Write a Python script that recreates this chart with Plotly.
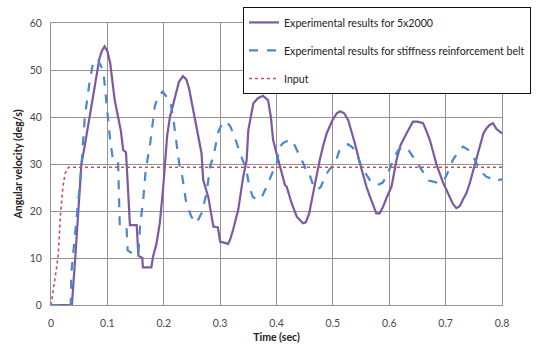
import plotly.graph_objects as go

# ---- data ----
t_5x2000 = [0, 0.037, 0.043, 0.048, 0.054, 0.06, 0.065, 0.07, 0.075, 0.081, 0.086, 0.09, 0.095, 0.1,
            0.105, 0.109, 0.113, 0.119, 0.124, 0.128, 0.133, 0.136, 0.14, 0.152, 0.155, 0.162, 0.163,
            0.178, 0.181, 0.187, 0.193, 0.199, 0.202, 0.206, 0.211, 0.22, 0.227, 0.234, 0.24, 0.245,
            0.249, 0.258, 0.262, 0.267, 0.27, 0.279, 0.288, 0.296, 0.3, 0.314, 0.318, 0.323, 0.332,
            0.341, 0.347, 0.35, 0.359, 0.367, 0.376, 0.385, 0.39, 0.394, 0.4, 0.406, 0.415, 0.418,
            0.427, 0.436, 0.447, 0.452, 0.458, 0.465, 0.471, 0.477, 0.483, 0.489, 0.5, 0.507, 0.513,
            0.52, 0.527, 0.533, 0.539, 0.548, 0.554, 0.56, 0.566, 0.577, 0.583, 0.589, 0.596, 0.604,
            0.613, 0.62, 0.631, 0.642, 0.65, 0.66, 0.666, 0.672, 0.678, 0.684, 0.696, 0.707, 0.713,
            0.719, 0.725, 0.731, 0.737, 0.743, 0.749, 0.755, 0.761, 0.767, 0.772, 0.778, 0.784,
            0.79, 0.796, 0.8]
v_5x2000 = [0, 0, 10, 20, 30, 34, 37.5, 41, 45, 49.5, 52.5, 54, 55, 54,
            51.5, 47.5, 43.6, 40, 37, 33, 32.5, 26, 17, 17, 10.5, 10, 8,
            8, 10.3, 13, 17.4, 25, 30.8, 36, 40, 44.3, 47.5, 48.7, 48, 46,
            43.6, 37.9, 35, 32.3, 26.6, 23, 16.7, 16.5, 13.5, 13, 14, 16, 20.2,
            27.3, 30.8, 37.2, 42.9, 44, 44.5, 43.6, 40, 35.1, 32.3, 29.4, 25.5, 25.2,
            21.6, 18.8, 17.4, 17.6, 19.5, 23.8, 27.5, 31, 34, 36.5, 39.5, 40.8, 41.2,
            40.8, 39.4, 37, 34.4, 30.1, 27.3, 25, 23, 19.5, 19.5, 20.9, 23, 25.2,
            30.9, 34, 36.6, 39, 39, 38.7, 37, 35.1, 32.5, 29.8, 25.9, 23, 21.5,
            20.6, 21, 22.5, 23.8, 26, 28.7, 30.9, 33.5, 36.5, 37.5, 38.3, 38.7,
            37.5, 36.9, 36.5]

t_belt = [0, 0.035, 0.036, 0.041, 0.047, 0.053, 0.06, 0.068, 0.075, 0.079, 0.084, 0.088, 0.093,
          0.099, 0.105, 0.11, 0.119, 0.122, 0.134, 0.136, 0.145, 0.151, 0.155, 0.158, 0.164,
          0.168, 0.176, 0.184, 0.19, 0.198, 0.205, 0.211, 0.216, 0.22, 0.225, 0.229, 0.232,
          0.24, 0.249, 0.258, 0.267, 0.276, 0.282, 0.288, 0.297, 0.303, 0.311, 0.318, 0.325,
          0.33, 0.335, 0.341, 0.347, 0.352, 0.358, 0.367, 0.374, 0.38, 0.385, 0.39, 0.394,
          0.4, 0.406, 0.412, 0.424, 0.43, 0.436, 0.444, 0.45, 0.455, 0.46, 0.465, 0.471, 0.478,
          0.484, 0.489, 0.495, 0.504, 0.512, 0.519, 0.527, 0.535, 0.542, 0.551, 0.558, 0.566,
          0.578, 0.588, 0.596, 0.607, 0.616, 0.625, 0.634, 0.642, 0.654, 0.662, 0.67, 0.69,
          0.697, 0.705, 0.713, 0.722, 0.731, 0.74, 0.749, 0.758, 0.766, 0.772, 0.778, 0.787,
          0.794, 0.8]
v_belt = [0, 0, 6.7, 13, 20, 28, 40, 47.1, 51.8, 52.3, 52, 51, 49.7,
          42.2, 35.1, 30.8, 30.5, 16.7, 16.5, 11.6, 11, 10.5, 11, 16.7, 23,
          28.7, 34.4, 42.2, 44.5, 45.4, 44.3, 43.6, 40.5, 37.2, 33, 28.7, 28,
          21.6, 18.8, 17.4, 19.5, 23.8, 29.4, 31.6, 36.9, 38.5, 39.1, 38, 36,
          34, 32.5, 30.5, 28.5, 25, 23, 22.3, 23, 24.5, 26, 27.5, 28.5,
          30, 33.7, 34.5, 35.2, 34.5, 33, 30.9, 29.5, 27.5, 27.3, 25.5, 24.5, 25,
          26.5, 28, 29, 30.2, 33, 33.8, 34.2, 33.5, 32.3, 29.4, 28, 26.5,
          25.5, 26, 27.5, 30.9, 33, 33.7, 33, 31.6, 29.4, 28, 26.5, 25.9,
          26.5, 28.5, 30.9, 32.5, 33.7, 33, 31.6, 29.4, 28, 27.3, 27, 26.3,
          26.5, 26.8]

t_input = [0, 0.004, 0.01, 0.013, 0.017, 0.021, 0.025, 0.031, 0.8]
v_input = [0, 3, 8, 11, 19.5, 25, 28, 29.3, 29.3]

x_ticks = [0, 0.1, 0.2, 0.3, 0.4, 0.5, 0.6, 0.7, 0.8]
y_ticks = [0, 10, 20, 30, 40, 50, 60]

FONT = "Lato"

fig = go.Figure()
fig.add_trace(go.Scatter(x=t_5x2000, y=v_5x2000, mode="lines", name="Experimental results for 5x2000",
                         legendgroup="a", line=dict(color="#7B59A3", width=2.2)))
fig.add_trace(go.Scatter(x=t_belt, y=v_belt, mode="lines",
                         name="Experimental results for stiffness reinforcement belt",
                         legendgroup="b", line=dict(color="#4A88CC", width=2.2, dash="dash")))
fig.add_trace(go.Scatter(x=t_input, y=v_input, mode="lines", name="Input",
                         legendgroup="c", line=dict(color="#C8504E", width=1.6, dash="dot")))

axis_common = dict(showgrid=True, gridcolor="#949494", gridwidth=1, zeroline=False,
                   showline=True, linecolor="#949494", linewidth=1, mirror=True,
                   tickfont=dict(family=FONT, size=10.5, color="#4a4a4a"), ticks="")

fig.update_xaxes(range=[0, 0.8], tickvals=x_ticks, ticktext=[str(v) for v in x_ticks],
                 title=dict(text="<b>Time (sec)</b>", font=dict(family=FONT, size=10.5, color="#222"),
                            standoff=6),
                 ticklabelstandoff=8, **axis_common)
fig.update_yaxes(range=[0, 60], tickvals=y_ticks,
                 title=dict(text="<b>Angular velocity (deg/s)</b>", font=dict(family=FONT, size=10.5, color="#222"),
                            standoff=5),
                 ticklabelstandoff=6, **axis_common)

fig.update_layout(
    width=536, height=345,
    margin=dict(l=51, r=34, t=23, b=40, autoexpand=False),
    paper_bgcolor="white", plot_bgcolor="white",
    font=dict(family=FONT, size=10.6, color="#222"),
    legend=dict(x=0.4257, y=1.057, xanchor="left", yanchor="top",
                bgcolor="white", bordercolor="#111", borderwidth=1,
                traceorder="grouped", tracegroupgap=9, itemwidth=30,
                font=dict(family=FONT, size=10.6, color="#222")),
    showlegend=True,
)

fig.write_html("out.html")
